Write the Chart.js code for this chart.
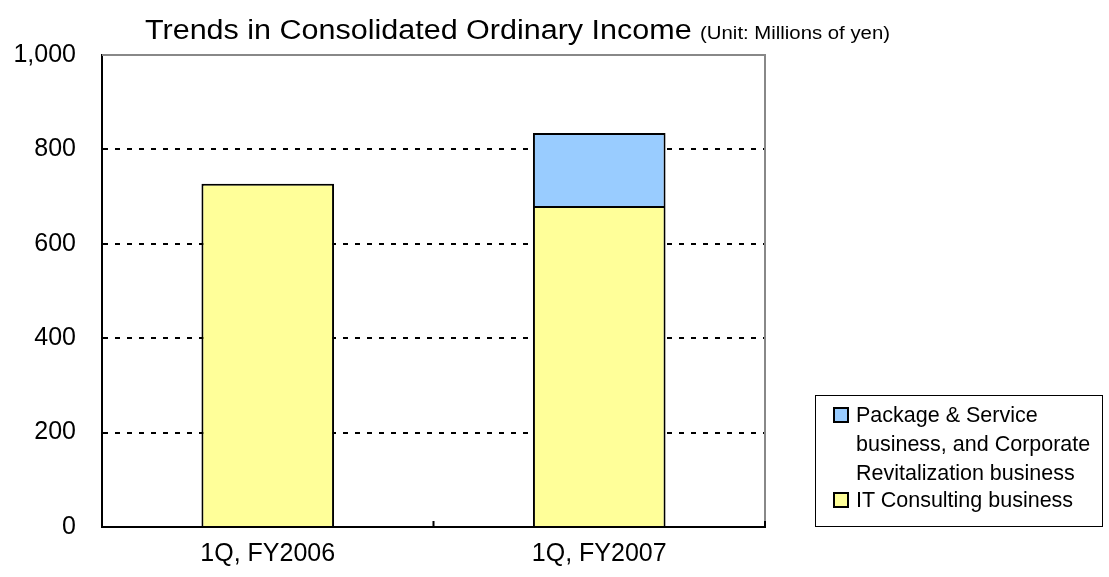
<!DOCTYPE html>
<html>
<head>
<meta charset="utf-8">
<script src="https://cdn.jsdelivr.net/npm/chart.js@4/dist/chart.umd.min.js"></script>
<style>
    body { margin: 0; background: #fff; }
    #wrap { position: relative; width: 1109px; height: 577px; }
    #title {
        position: absolute; left: 145px; top: 15px;
        font-family: "Liberation Sans", Arial, sans-serif; font-size: 27px; color: #000;
        white-space: nowrap; transform: scaleX(1.13); transform-origin: left top;
    }
    #title small { font-size: 18px; }
    #legend {
        position: absolute; left: 815px; top: 395px; width: 288px; height: 132px;
        border: 1px solid #000; box-sizing: border-box;
        font-family: "Liberation Sans", Arial, sans-serif;
        font-size: 21.5px; color: #000;
    }
    .item { position: absolute; left: 17px; }
    .sw {
        position: absolute; left: 0; width: 12px; height: 12px;
        border: 2px solid #000;
    }
    .txt { position: absolute; left: 23px; white-space: nowrap; line-height: 26px; }
</style>
</head>
<body>
<div id="wrap">
    <canvas id="chart" width="1109" height="577"></canvas>
    <div id="title">Trends in Consolidated Ordinary Income <small>(Unit: Millions of yen)</small></div>
    <div id="legend"></div>
</div>
<script>
const categories = ["1Q, FY2006", "1Q, FY2007"];
const itConsulting = [727, 680];
const packageService = [null, 155];
const seriesNames = [
    "IT Consulting business",
    "Package & Service business, and Corporate Revitalization business",
];
const yTicks = [0, 200, 400, 600, 800, 1000];

const colors = ["#FFFF99", "#99CCFF"];

// grey frame on top/right, little inward tick between categories
const framePlugin = {
    id: "frame",
    afterDatasetsDraw(chart) {
        const { ctx, chartArea: a } = chart;
        const x = chart.scales.x;
        ctx.save();
        ctx.strokeStyle = "#888";
        ctx.lineWidth = 2;
        ctx.beginPath();
        ctx.moveTo(a.left, a.top);
        ctx.lineTo(a.right, a.top);
        ctx.lineTo(a.right, a.bottom);
        ctx.stroke();
        ctx.strokeStyle = "#000";
        ctx.beginPath();
        const mid = (x.getPixelForValue(0) + x.getPixelForValue(1)) / 2;
        ctx.moveTo(mid, a.bottom);
        ctx.lineTo(mid, a.bottom - 6);
        ctx.moveTo(a.right, a.bottom);
        ctx.lineTo(a.right, a.bottom - 6);
        ctx.stroke();
        ctx.restore();
    },
};

new Chart(document.getElementById("chart"), {
    type: "bar",
    data: {
        labels: categories,
        datasets: [
            {
                label: seriesNames[0],
                data: itConsulting,
                backgroundColor: colors[0],
                borderColor: "#000",
                borderWidth: { left: 2, right: 2, top: 2, bottom: 0 },
                borderSkipped: false,
            },
            {
                label: seriesNames[1],
                data: packageService,
                backgroundColor: colors[1],
                borderColor: "#000",
                borderWidth: { left: 2, right: 2, top: 2, bottom: 0 },
                borderSkipped: false,
            },
        ],
    },
    plugins: [framePlugin],
    options: {
        responsive: false,
        animation: false,
        layout: { padding: { top: 55, right: 344, left: 0, bottom: 0 } },
        datasets: { bar: { categoryPercentage: 1, barPercentage: 0.4 } },
        plugins: { legend: { display: false }, tooltip: { enabled: false } },
        scales: {
            x: {
                stacked: true,
                afterFit: (s) => { s.height = 50; },
                grid: { display: false },
                border: { display: true, color: "#000", width: 2 },
                ticks: {
                    color: "#000",
                    padding: 4,
                    font: { family: "Liberation Sans", size: 25 },
                },
            },
            y: {
                stacked: true,
                min: 0,
                max: 1000,
                afterFit: (s) => { s.width = 102; },
                afterBuildTicks: (s) => { s.ticks = yTicks.map((v) => ({ value: v })); },
                grid: {
                    color: (c) => (c.tick && c.tick.value === 0 ? "rgba(0,0,0,0)" : "#000"),
                    lineWidth: 2,
                    drawTicks: false,
                },
                border: { display: true, color: "#000", width: 2, dash: [5, 7] },
                ticks: {
                    color: "#000",
                    padding: 26,
                    font: { family: "Liberation Sans", size: 25 },
                    callback: (v) => v.toLocaleString("en-US"),
                },
            },
        },
    },
});

// legend drawn as html, top-down order like the original
const legend = document.getElementById("legend");
const legendRows = [
    { color: colors[1], lines: ["Package & Service", "business, and Corporate", "Revitalization business"], top: 6 },
    { color: colors[0], lines: ["IT Consulting business"], top: 91 },
];
legendRows.forEach((row) => {
    const item = document.createElement("div");
    item.className = "item";
    item.style.top = row.top + "px";
    const sw = document.createElement("div");
    sw.className = "sw";
    sw.style.background = row.color;
    sw.style.top = "5px";
    item.appendChild(sw);
    row.lines.forEach((line, i) => {
        const t = document.createElement("div");
        t.className = "txt";
        t.style.top = i * 29 + "px";
        t.textContent = line;
        item.appendChild(t);
    });
    legend.appendChild(item);
});
</script>
</body>
</html>
